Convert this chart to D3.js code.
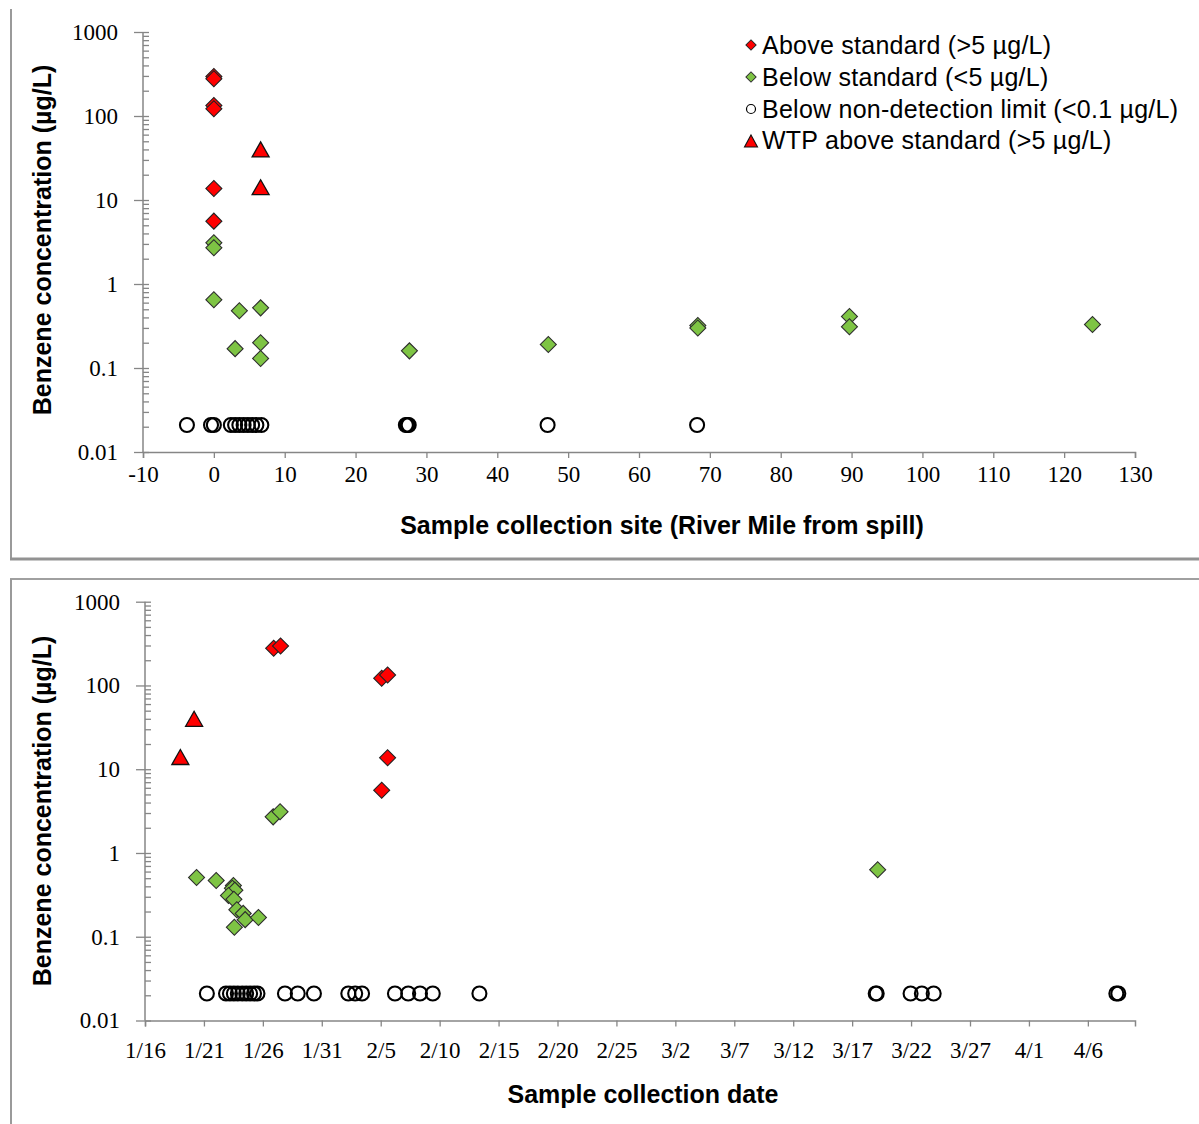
<!DOCTYPE html>
<html>
<head>
<meta charset="utf-8">
<title>Benzene concentration</title>
<script src="https://d3js.org/d3.v7.min.js"></script>
<style>
  body { margin: 0; background: #fff; }
  svg { display: block; }
</style>
</head>
<body>
<div id="chart"></div>
<script>
// ---- data: top panel, river mile from spill vs concentration (ug/L)
var siteAbove = [[0, 296], [0, 278], [0, 133], [0, 122], [0, 13.7], [0, 5.6]];
var siteBelow = [[0, 3.1], [0, 2.7], [0, 0.65], [3.6, 0.48], [3.0, 0.17], [6.6, 0.52],
                 [6.6, 0.20], [6.6, 0.13], [27.6, 0.16], [47.2, 0.19], [68.3, 0.32],
                 [68.3, 0.30], [89.7, 0.41], [89.7, 0.31], [124, 0.33]];
var siteNonDetect = [-3.8, -0.4, 0, 2.4, 3.0, 3.6, 4.2, 4.8, 5.4, 6.0, 6.7, 27.1, 27.3, 27.5, 47.1, 68.2];
var siteWtp = [[6.6, 40], [6.6, 14.2]];

// ---- data: bottom panel, sample date vs concentration (ug/L)
var dateAbove = [["01-26 22", 278], ["01-27 12", 296], ["02-05 02", 122], ["02-05 14", 133],
                 ["02-05 14", 13.7], ["02-05 02", 5.6]];
var dateBelow = [["01-20 09", 0.51], ["01-22 01", 0.47], ["01-23 12", 0.41], ["01-23 10", 0.38],
                 ["01-23 15", 0.36], ["01-23 02", 0.31], ["01-23 13", 0.28], ["01-23 19", 0.21],
                 ["01-24 08", 0.19], ["01-24 12", 0.16], ["01-25 15", 0.17], ["01-23 14", 0.13],
                 ["01-26 21", 2.7], ["01-27 11", 3.1], ["03-19 04", 0.63]];
var dateNonDetect = ["01-21 06", "01-22 21", "01-23 05", "01-23 13", "01-23 21", "01-24 06",
                     "01-24 14", "01-24 22", "01-25 06", "01-25 13", "01-27 21", "01-28 23",
                     "01-30 08", "02-02 06", "02-02 20", "02-03 10", "02-06 05", "02-07 08",
                     "02-08 08", "02-09 10", "02-13 09", "03-19 00", "03-19 02", "03-21 23",
                     "03-22 22", "03-23 22", "04-08 10", "04-08 14"];
var dateWtp = [["01-19 00", 14], ["01-20 04", 40]];

var nonDetectValue = 0.021;

// ---- axes
var concTicks = [0.01, 0.1, 1, 10, 100, 1000];
var concLabels = ["0.01", "0.1", "1", "10", "100", "1000"];
var siteTicks = [-10, 0, 10, 20, 30, 40, 50, 60, 70, 80, 90, 100, 110, 120, 130];
var dateTickLabels = ["1/16", "1/21", "1/26", "1/31", "2/5", "2/10", "2/15", "2/20", "2/25",
                      "3/2", "3/7", "3/12", "3/17", "3/22", "3/27", "4/1", "4/6"];
var legendLabels = ["Above standard (>5 \u00b5g/L)", "Below standard (<5 \u00b5g/L)",
                    "Below non-detection limit (<0.1 \u00b5g/L)", "WTP above standard (>5 \u00b5g/L)"];

var parseDate = d3.timeParse("%Y-%m-%d %H");
var parseTick = d3.timeParse("%Y/%m/%d");
function toDate(s) { return parseDate("2014-" + s); }

var W = 1199, H = 1124;
var svg = d3.select("#chart").append("svg").attr("width", W).attr("height", H);

// panel frames
svg.append("line").attr("x1", 11).attr("x2", 11).attr("y1", 9).attr("y2", 560)
  .attr("stroke", "#9a9a9a").attr("stroke-width", 2);
svg.append("line").attr("x1", 10).attr("x2", W).attr("y1", 559).attr("y2", 559)
  .attr("stroke", "#929292").attr("stroke-width", 3);
svg.append("line").attr("x1", 10).attr("x2", W).attr("y1", 579).attr("y2", 579)
  .attr("stroke", "#a0a0a0").attr("stroke-width", 2);
svg.append("line").attr("x1", 11).attr("x2", 11).attr("y1", 579).attr("y2", H)
  .attr("stroke", "#9a9a9a").attr("stroke-width", 2);

var red = "#ff0000", green = "#7ec444";
var diamond = d3.symbol().type(d3.symbolSquare).size(128);
var diamondSmall = d3.symbol().type(d3.symbolSquare).size(52);
function triPath(w, h) {
  return "M0," + (-h / 2) + "L" + (w / 2) + "," + (h / 2) + "L" + (-w / 2) + "," + (h / 2) + "Z";
}

var minorTicks = [];
for (var e = -2; e < 3; e++) {
  for (var m = 1; m < 10; m++) minorTicks.push(m * Math.pow(10, e));
}
minorTicks.push(1000);

function drawYAxis(g, y, x0) {
  var left = d3.axisLeft(y).tickValues(concTicks).tickSize(9).tickPadding(16)
    .tickFormat(function(d, i) { return concLabels[i]; });
  var ga = g.append("g").attr("transform", "translate(" + x0 + ",0)").call(left);
  ga.select(".domain").remove();
  ga.selectAll("text").attr("font-family", "'Liberation Serif', 'Times New Roman', serif")
    .attr("font-size", 23).attr("fill", "#000");
  var right = d3.axisRight(y).tickValues(minorTicks).tickSize(6).tickFormat("");
  var gb = g.append("g").attr("transform", "translate(" + x0 + ",0)").call(right);
  gb.select(".domain").remove();
  g.append("line").attr("x1", x0).attr("x2", x0).attr("y1", y(1000)).attr("y2", y(0.01))
    .attr("stroke", "#868686").attr("stroke-width", 1.5);
  g.selectAll(".tick line").attr("stroke", "#868686").attr("stroke-width", 1.3);
}

function drawXAxis(g, x, y0, axis, pad) {
  var ga = g.append("g").attr("transform", "translate(0," + y0 + ")").call(axis.tickSize(6).tickPadding(pad));
  ga.select(".domain").attr("stroke", "#868686").attr("stroke-width", 1.5);
  ga.selectAll(".tick line").attr("stroke", "#868686").attr("stroke-width", 1.3);
  ga.selectAll("text").attr("font-family", "'Liberation Serif', 'Times New Roman', serif")
    .attr("font-size", 23).attr("fill", "#000");
}

function drawTitles(g, yMid, xMid, xBase, xText) {
  g.append("text").attr("transform", "translate(51," + yMid + ") rotate(-90)")
    .attr("text-anchor", "middle").attr("font-family", "'Liberation Sans', Arial, sans-serif")
    .attr("font-weight", "bold").attr("font-size", 25).text("Benzene concentration (\u00b5g/L)");
  g.append("text").attr("x", xMid).attr("y", xBase).attr("text-anchor", "middle")
    .attr("font-family", "'Liberation Sans', Arial, sans-serif")
    .attr("font-weight", "bold").attr("font-size", 25).text(xText);
}

function drawMarks(g, x, y, above, below, nondet, wtp, xv) {
  g.selectAll("path.above").data(above).enter().append("path")
    .attr("d", diamond)
    .attr("transform", function(d) { return "translate(" + x(xv(d[0])) + "," + y(d[1]) + ") rotate(45)"; })
    .attr("fill", red).attr("stroke", "#222").attr("stroke-width", 1.1);
  g.selectAll("path.below").data(below).enter().append("path")
    .attr("d", diamond)
    .attr("transform", function(d) { return "translate(" + x(xv(d[0])) + "," + y(d[1]) + ") rotate(45)"; })
    .attr("fill", green).attr("stroke", "#2e2e2e").attr("stroke-width", 1.1);
  g.selectAll("circle.nd").data(nondet).enter().append("circle")
    .attr("cx", function(d) { return x(xv(d)); }).attr("cy", y(nonDetectValue)).attr("r", 7)
    .attr("fill", "none").attr("stroke", "#000").attr("stroke-width", 2.1);
  g.selectAll("path.wtp").data(wtp).enter().append("path")
    .attr("d", triPath(17, 15))
    .attr("transform", function(d) { return "translate(" + x(xv(d[0])) + "," + y(d[1]) + ")"; })
    .attr("fill", red).attr("stroke", "#111").attr("stroke-width", 1.3);
}

// ---- top panel
var topG = svg.append("g");
var xSite = d3.scaleLinear().domain([-10, 130]).range([143, 1135]);
var ySite = d3.scaleLog().domain([0.01, 1000]).range([452, 32]);
drawYAxis(topG, ySite, 143);
drawXAxis(topG, xSite, 452, d3.axisBottom(xSite).tickValues(siteTicks)
  .tickFormat(function(d) { return String(d); }), 8);
drawTitles(topG, 240, 662, 534, "Sample collection site (River Mile from spill)");
drawMarks(topG, xSite, ySite, siteAbove, siteBelow, siteNonDetect, siteWtp, function(v) { return v; });

// legend
var leg = topG.append("g");
var legY = [45, 77, 109, 140];
leg.selectAll("text").data(legendLabels).enter().append("text")
  .attr("x", 762).attr("y", function(d, i) { return legY[i]; }).attr("dy", "0.35em")
  .attr("font-family", "'Liberation Sans', Arial, sans-serif").attr("font-size", 25)
  .attr("letter-spacing", 0.25).attr("fill", "#000").text(function(d) { return d; });
leg.append("path").attr("d", diamondSmall).attr("transform", "translate(751," + legY[0] + ") rotate(45)")
  .attr("fill", red).attr("stroke", "#222").attr("stroke-width", 1);
leg.append("path").attr("d", diamondSmall).attr("transform", "translate(751," + legY[1] + ") rotate(45)")
  .attr("fill", green).attr("stroke", "#2e2e2e").attr("stroke-width", 1);
leg.append("circle").attr("cx", 751).attr("cy", legY[2]).attr("r", 4.5)
  .attr("fill", "none").attr("stroke", "#000").attr("stroke-width", 1.2);
leg.append("path").attr("d", triPath(13, 12)).attr("transform", "translate(751," + (legY[3] + 1) + ")")
  .attr("fill", red).attr("stroke", "#111").attr("stroke-width", 1.1);

// ---- bottom panel
var botG = svg.append("g");
var xDate = d3.scaleTime().domain([parseTick("2014/1/16"), parseTick("2014/4/10")]).range([145, 1135]);
var yDate = d3.scaleLog().domain([0.01, 1000]).range([1020.5, 601.7]);
var dateTicks = dateTickLabels.map(function(s) { return parseTick("2014/" + s); });
drawYAxis(botG, yDate, 145);
drawXAxis(botG, xDate, 1020.5, d3.axisBottom(xDate).tickValues(dateTicks)
  .tickFormat(function(d, i) { return dateTickLabels[i]; }), 15);
drawTitles(botG, 811, 643, 1103, "Sample collection date");
drawMarks(botG, xDate, yDate, dateAbove, dateBelow, dateNonDetect, dateWtp, toDate);
</script>
</body>
</html>
